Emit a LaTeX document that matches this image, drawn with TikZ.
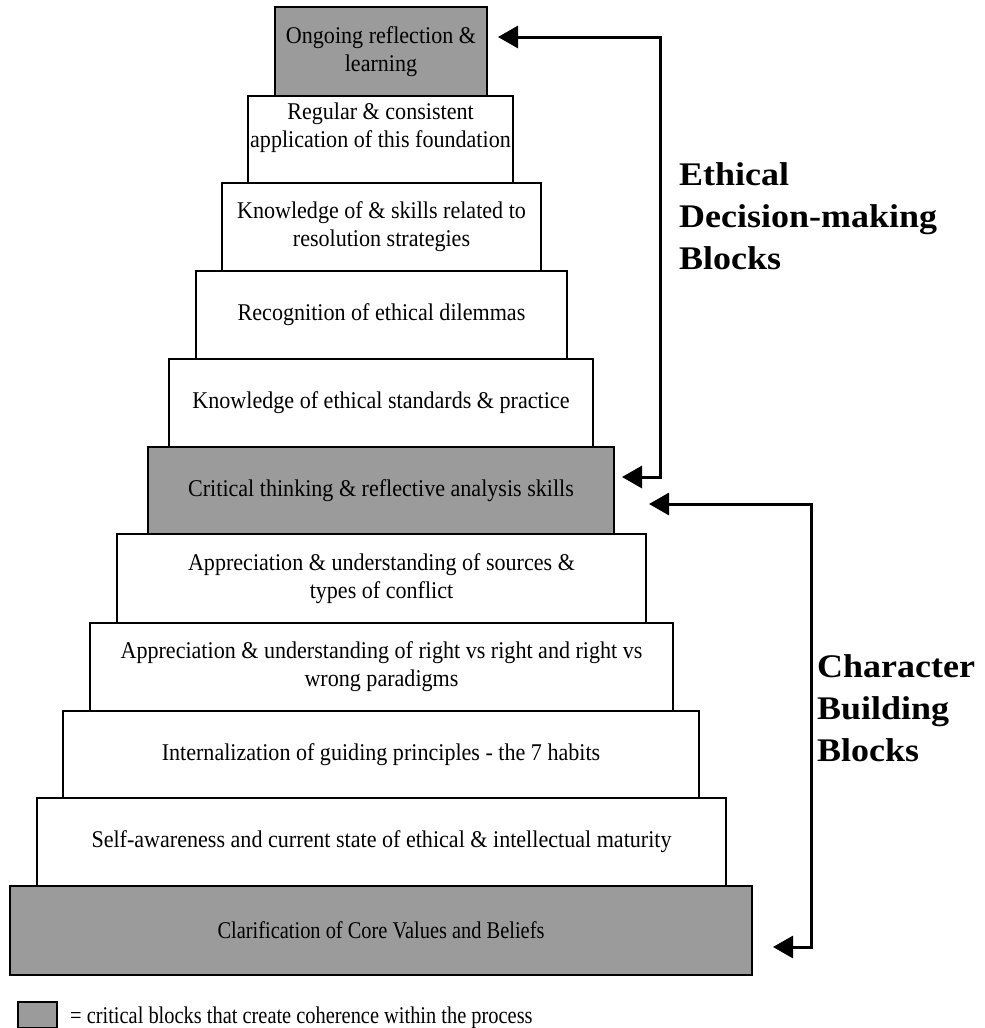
\documentclass[tikz,border=0pt]{standalone}
\usepackage{fontspec}
\setmainfont{Liberation Serif}
\newfontfamily\blockfont{Liberation Serif}[FakeStretch=0.92]
\newfontfamily\condfont{Liberation Serif}[FakeStretch=0.85]
\newfontfamily\labfont{Liberation Serif Bold}[FakeStretch=1.09]
\usetikzlibrary{arrows.meta}
\definecolor{critgray}{RGB}{155,155,155}
\begin{document}
\begin{tikzpicture}[x=1pt,y=-1pt,
  block/.style={draw=black, line width=1.3pt, fill=white, inner sep=0pt, align=center,
    font=\blockfont\fontsize{24}{28}\selectfont},
  crit/.style={block, fill=critgray},
  condtext/.style={font=\condfont\fontsize{24}{28}\selectfont},
  conn/.style={line width=3pt, {Triangle[length=20pt,width=22pt]}-{Triangle[length=20pt,width=22pt]}},
  sidelabel/.style={anchor=north west, align=left, inner sep=0pt,
    font=\labfont\fontsize{33}{42}\selectfont}]
\useasboundingbox (0,0) rectangle (985,1028);
% blocks, top to bottom
\node[crit,  minimum width=212pt, minimum height=89pt] (b1) at (381,51.5) {Ongoing reflection \&\\learning};
\node[block, minimum width=265pt, minimum height=87pt] (b2) at (380.5,139.5) {Regular \& consistent\\application of this foundation\\\mbox{}};
\node[block, minimum width=319pt, minimum height=88pt] (b3) at (381.5,227) {Knowledge of \& skills related to\\resolution strategies};
\node[block, minimum width=371pt, minimum height=88pt] (b4) at (381.5,315) {Recognition of ethical dilemmas};
\node[block, minimum width=424pt, minimum height=88pt] (b5) at (381,403) {Knowledge of ethical standards \& practice};
\node[crit,  minimum width=466pt, minimum height=87pt] (b6) at (381,490.5) {Critical thinking \& reflective analysis skills};
\node[block, minimum width=529pt, minimum height=89pt] (b7) at (381.5,578.5) {Appreciation \& understanding of sources \&\\types of conflict};
\node[block, minimum width=583pt, minimum height=88pt] (b8) at (381.5,667) {Appreciation \& understanding of right vs right and right vs\\wrong paradigms};
\node[block, minimum width=636pt, minimum height=87pt] (b9) at (381,754.5) {Internalization of guiding principles - the 7 habits};
\node[block, minimum width=689pt, minimum height=88pt] (b10) at (381.5,842) {Self-awareness and current state of ethical \& intellectual maturity};
\node[crit, condtext, minimum width=742pt, minimum height=89pt] (b11) at (381,930.5) {Clarification of Core Values and Beliefs};
% connectors
\coordinate (e1) at (498,37);
\coordinate (ec) at (660,477);
\coordinate (e2) at (622,477);
\draw[conn] (e1) -| (ec) -- (e2);
\coordinate (c1) at (649,504);
\coordinate (cc) at (811,947);
\coordinate (c2) at (773,947);
\draw[conn] (c1) -| (cc) -- (c2);
% side labels
\node[sidelabel] (lab1) at (679,162) {Ethical\\Decision-making\\Blocks};
\node[sidelabel] (lab2) at (817,654) {Character\\Building\\Blocks};
% legend
\node[draw=black, line width=1.3pt, fill=critgray, minimum width=39pt, minimum height=26pt, inner sep=0pt] (leg) at (37.5,1015) {};
\node[condtext, anchor=base west, inner sep=0pt] (legtext) at (70,1023) {= critical blocks that create coherence within the process};
\end{tikzpicture}
\end{document}
